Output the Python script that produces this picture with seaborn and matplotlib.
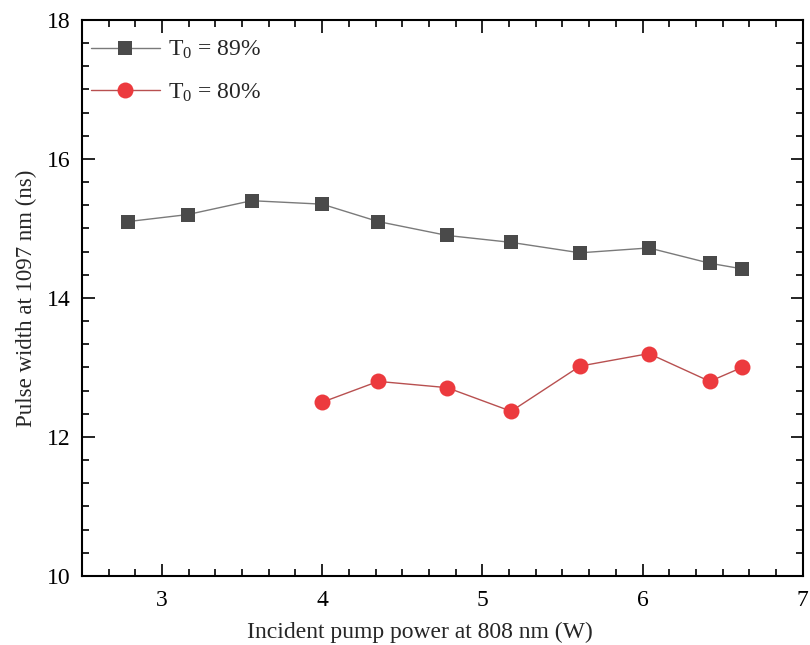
import matplotlib
matplotlib.use("Agg")
import matplotlib.pyplot as plt
from matplotlib.ticker import MultipleLocator
import seaborn as sns
import pandas as pd

power_89 = [2.79, 3.16, 3.56, 4.00, 4.35, 4.78, 5.18, 5.61, 6.04, 6.42, 6.62]
width_89 = [15.10, 15.20, 15.40, 15.35, 15.10, 14.90, 14.80, 14.65, 14.72, 14.50, 14.42]
power_80 = [4.00, 4.35, 4.78, 5.18, 5.61, 6.04, 6.42, 6.62]
width_80 = [12.50, 12.80, 12.71, 12.37, 13.02, 13.20, 12.80, 13.00]
labels = ["T$_0$ = 89%", "T$_0$ = 80%"]

sns.set_theme(style="ticks")
plt.rcParams["font.family"] = ["Liberation Serif", "DejaVu Serif"]
plt.rcParams["mathtext.fontset"] = "custom"
plt.rcParams["mathtext.rm"] = "Liberation Serif"
plt.rcParams["mathtext.it"] = "Liberation Serif"

fig = plt.figure(figsize=(8.1, 6.45), dpi=100)
ax = fig.add_axes([0.101, 0.107, 0.890, 0.862])

df89 = pd.DataFrame({"x": power_89, "y": width_89})
df80 = pd.DataFrame({"x": power_80, "y": width_80})

sns.lineplot(data=df89, x="x", y="y", ax=ax, color="#7a7a7a", lw=1.0,
             marker="s", markersize=10.5, markerfacecolor="#4a4a4a",
             markeredgecolor="#4a4a4a", markeredgewidth=0, label=labels[0])
sns.lineplot(data=df80, x="x", y="y", ax=ax, color="#b85050", lw=1.0,
             marker="o", markersize=11.5, markerfacecolor="#ec3a3e",
             markeredgecolor="#ec3a3e", markeredgewidth=0, label=labels[1])

ax.set_xlim(2.5, 7)
ax.set_ylim(10, 18)
ax.xaxis.set_major_locator(MultipleLocator(1))
ax.xaxis.set_minor_locator(MultipleLocator(1/6))
ax.yaxis.set_major_locator(MultipleLocator(2))
ax.yaxis.set_minor_locator(MultipleLocator(1/3))
ax.tick_params(which="both", direction="in", top=True, right=True,
               labelsize=17, colors="black", width=1.2)
ax.tick_params(which="major", length=9)
ax.tick_params(axis="x", which="major", pad=10)
ax.tick_params(axis="y", which="major", pad=8)
ax.tick_params(which="minor", length=5)
for s in ax.spines.values():
    s.set_linewidth(1.5)
    s.set_color("black")

ax.set_xlabel("Incident pump power at 808 nm (W)", fontsize=17)
ax.xaxis.set_label_coords(0.469, -0.083)
ax.set_ylabel("Pulse width at 1097 nm (ns)", fontsize=16.5, labelpad=7)

leg = ax.legend(loc="upper left", frameon=False, fontsize=17,
                handlelength=2.9, handletextpad=0.35, labelspacing=0.85,
                borderaxespad=0.0, bbox_to_anchor=(0.0, 0.983))

fig.savefig("out.png", dpi=100)
